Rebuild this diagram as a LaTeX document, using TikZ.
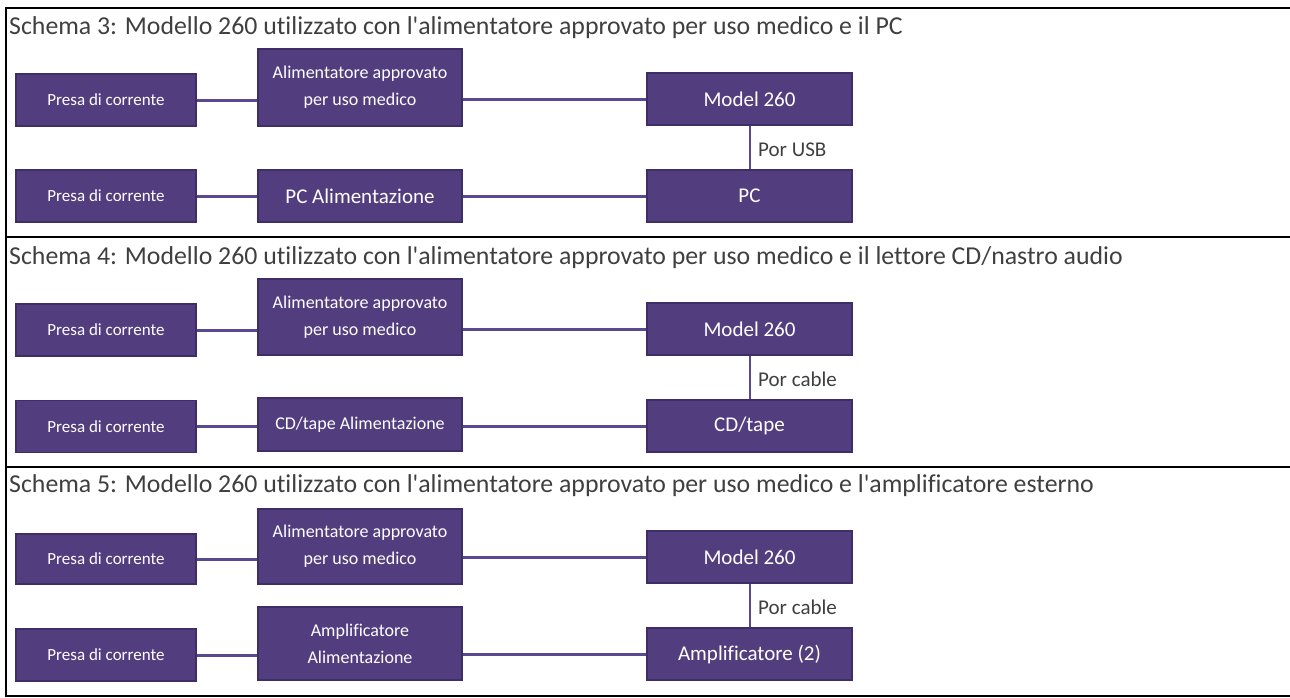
\documentclass[tikz,border=0pt]{standalone}
\usepackage{fontspec}
\setmainfont{Carlito}[Ligatures={NoCommon,NoContextual}]
\definecolor{boxfill}{HTML}{523E7F}
\definecolor{boxline}{HTML}{3F2D68}
\definecolor{wirecol}{HTML}{5A4890}
\definecolor{titlegray}{HTML}{3F3F3F}
\tikzset{
  box/.style={draw=boxline, line width=1.2pt, fill=boxfill, text=white, inner sep=0pt, align=center, minimum height=52pt},
  smalltext/.style={font=\fontsize{17}{26}\selectfont},
  midtext/.style={font=\fontsize{18}{27}\selectfont},
  bigtext/.style={font=\fontsize{21}{26}\selectfont},
  wire/.style={draw=wirecol, line width=3pt},
  vwire/.style={draw=wirecol, line width=2pt},
  frame/.style={draw=black, line width=2.5pt},
  title/.style={anchor=west, inner sep=0pt, text=titlegray, font=\fontsize{25.8}{28}\selectfont},
  wlabel/.style={anchor=west, inner sep=0pt, text=titlegray, font=\fontsize{21}{26}\selectfont}
}
\begin{document}
\begin{tikzpicture}[x=1pt,y=-1pt]
\useasboundingbox (0,0) rectangle (1290,697);
% frame
\draw[frame] (6,8) -- (1290,8);
\draw[frame] (6,237) -- (1290,237);
\draw[frame] (6,467) -- (1290,467);
\draw[frame] (6,696) -- (1290,696);
\draw[frame] (6,7) -- (6,697);

% ---------- Schema 3 ----------
\begin{scope}[shift={(0,0)}]
\node[title] (t1) at (9,28) {Schema 3: Modello 260 utilizzato con l\textquotesingle alimentatore approvato per uso medico e il PC};
\node[box, smalltext, minimum width=180pt] (p1a) at (106,100) {Presa di corrente};
\node[box, midtext, minimum width=204pt, minimum height=77pt] (a1a) at (360,87.5) {Alimentatore approvato\\per uso medico};
\node[box, bigtext, minimum width=205pt] (m1a) at (749.5,99) {Model 260};
\node[box, smalltext, minimum width=180pt] (p1b) at (106,196) {Presa di corrente};
\node[box, bigtext, minimum width=204pt] (a1b) at (360,196) {PC Alimentazione};
\node[box, bigtext, minimum width=205pt] (m1b) at (749.5,196) {PC};
\draw[wire] (p1a.east) -- (p1a.east -| a1a.west);
\draw[wire] (m1a.west -| a1a.east) -- (m1a.west);
\draw[wire] (p1b.east) -- (a1b.west);
\draw[wire] (a1b.east) -- (m1b.west);
\draw[vwire] (m1a.south) -- (m1b.north);
\node[wlabel] (l1) at (758,150) {Por USB};
\end{scope}

% ---------- Schema 4 ----------
\begin{scope}[shift={(0,230)}]
\node[title] (t2) at (9,28) {Schema 4: Modello 260 utilizzato con l\textquotesingle alimentatore approvato per uso medico e il lettore CD/nastro audio};
\node[box, smalltext, minimum width=180pt] (p2a) at (106,100) {Presa di corrente};
\node[box, midtext, minimum width=204pt, minimum height=76pt] (a2a) at (360,87) {Alimentatore approvato\\per uso medico};
\node[box, bigtext, minimum width=205pt] (m2a) at (749.5,99) {Model 260};
\node[box, smalltext, minimum width=180pt] (p2b) at (106,196.5) {Presa di corrente};
\node[box, midtext, minimum width=204pt, minimum height=53pt] (a2b) at (360,194.5) {CD/tape Alimentazione};
\node[box, bigtext, minimum width=205pt] (m2b) at (749.5,196) {CD/tape};
\draw[wire] (p2a.east) -- (p2a.east -| a2a.west);
\draw[wire] (m2a.west -| a2a.east) -- (m2a.west);
\draw[wire] (p2b.east) -- (p2b.east -| a2b.west);
\draw[wire] (m2b.west -| a2b.east) -- (m2b.west);
\draw[vwire] (m2a.south) -- (m2b.north);
\node[wlabel] (l2) at (758,149) {Por cable};
\end{scope}

% ---------- Schema 5 ----------
\begin{scope}[shift={(0,459)}]
\node[title] (t3) at (9,27) {Schema 5: Modello 260 utilizzato con l\textquotesingle alimentatore approvato per uso medico e l\textquotesingle amplificatore esterno};
\node[box, smalltext, minimum width=180pt, minimum height=50pt] (p3a) at (106,100) {Presa di corrente};
\node[box, midtext, minimum width=204pt, minimum height=75pt] (a3a) at (360,87.5) {Alimentatore approvato\\per uso medico};
\node[box, bigtext, minimum width=205pt] (m3a) at (749.5,98) {Model 260};
\node[box, smalltext, minimum width=180pt] (p3b) at (106,196) {Presa di corrente};
\node[box, midtext, minimum width=204pt, minimum height=73pt] (a3b) at (360,184.5) {Amplificatore\\Alimentazione};
\node[box, bigtext, minimum width=205pt] (m3b) at (749.5,195) {Amplificatore (2)};
\draw[wire] (p3a.east) -- (p3a.east -| a3a.west);
\draw[wire] (m3a.west -| a3a.east) -- (m3a.west);
\draw[wire] (p3b.east) -- (p3b.east -| a3b.west);
\draw[wire] (m3b.west -| a3b.east) -- (m3b.west);
\draw[vwire] (m3a.south) -- (m3b.north);
\node[wlabel] (l3) at (758,148) {Por cable};
\end{scope}
\end{tikzpicture}
\end{document}
